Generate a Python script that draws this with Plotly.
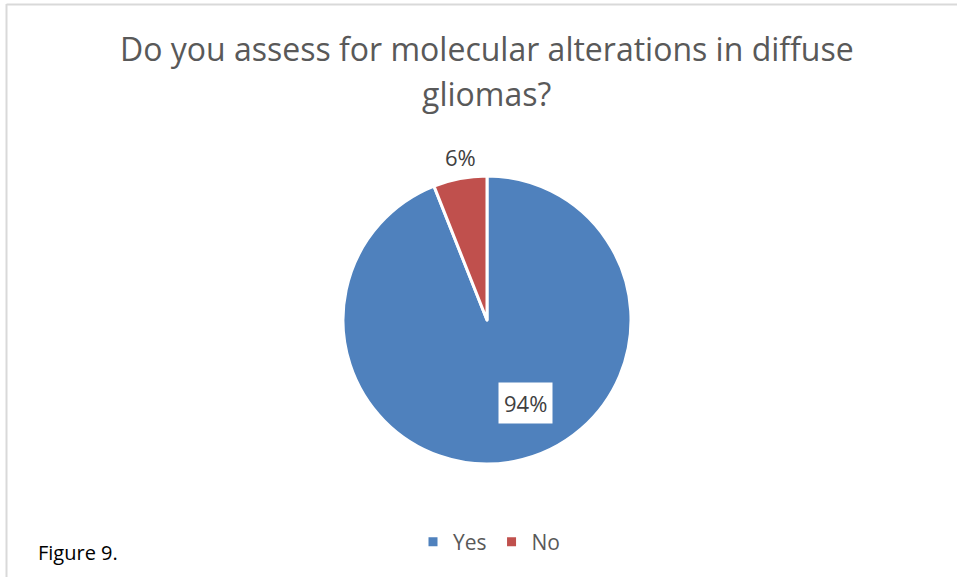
import plotly.graph_objects as go

labels = ["Yes", "No"]
values = [94, 6]
colors = ["#4F81BD", "#C0504D"]
title_lines = ["Do you assess for molecular alterations in diffuse", "gliomas?"]
caption = "Figure 9."

W, H = 957, 577
cx, cy, R = 487, 320, 144  # pie center / radius in px

fig = go.Figure(go.Pie(
    labels=labels, values=values, sort=False, direction="clockwise", rotation=0,
    marker=dict(colors=colors, line=dict(color="white", width=3)),
    textinfo="none", hoverinfo="label+percent",
    domain=dict(x=[(cx - R) / W, (cx + R) / W], y=[(H - cy - R) / H, (H - cy + R) / H]),
))

font = "Open Sans"
def px(x, y):
    return x / W, 1 - y / H

ann = []
for line, yy in zip(title_lines, [49, 94]):
    x, y = px(487, yy)
    ann.append(dict(text=line, x=x, y=y, xref="paper", yref="paper", xanchor="center", yanchor="middle",
                    showarrow=False, font=dict(family=font, size=32, color="#595959")))
total = sum(values)
x, y = px(525, 403)
ann.append(dict(text=f"{round(values[0] / total * 100)}%", x=x, y=y, xref="paper", yref="paper",
                xanchor="center", yanchor="middle",
                showarrow=False, bgcolor="white", borderpad=5,
                font=dict(family=font, size=22, color="#404040")))
x, y = px(460, 157)
ann.append(dict(text=f"{round(values[1] / total * 100)}%", x=x, y=y, xref="paper", yref="paper",
                xanchor="center", yanchor="middle",
                showarrow=False, font=dict(family=font, size=22, color="#404040")))
x, y = px(36, 552)
ann.append(dict(text=caption, x=x, y=y, xref="paper", yref="paper", xanchor="left", yanchor="middle",
                showarrow=False, font=dict(family=font, size=20, color="black")))

lx, ly = px(489, 542)
fig.update_layout(
    width=W, height=H, margin=dict(l=0, r=0, t=0, b=0),
    paper_bgcolor="white", plot_bgcolor="white",
    annotations=ann,
    showlegend=True,
    legend=dict(orientation="h", x=lx, xanchor="center", y=ly, yanchor="middle",
                font=dict(family=font, size=21, color="#595959"), itemclick=False),
    shapes=[
        dict(type="line", xref="paper", yref="paper", x0=6.5 / W, x1=6.5 / W, y0=0, y1=1 - 4 / H,
             line=dict(color="#D9D9D9", width=2)),
        dict(type="line", xref="paper", yref="paper", x0=6.5 / W, x1=1, y0=1 - 4.5 / H, y1=1 - 4.5 / H,
             line=dict(color="#D9D9D9", width=2)),
    ],
)

fig.write_html("out.html", config={"displayModeBar": False},
               post_script="document.body.style.margin='0';")
